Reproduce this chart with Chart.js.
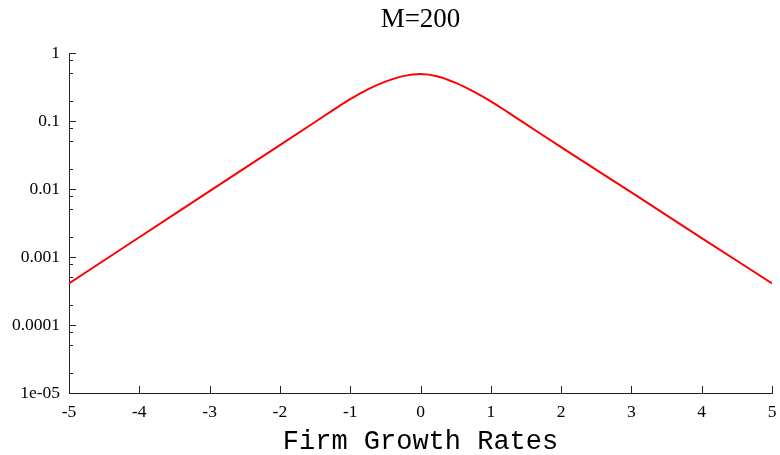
<!DOCTYPE html>
<html>
<head>
<meta charset="utf-8">
<script src="https://cdn.jsdelivr.net/npm/chart.js@4.4.1/dist/chart.umd.min.js"></script>
<style>
    html, body { margin: 0; padding: 0; background: #fff; }
    #wrap { width: 780px; height: 455px; }
</style>
</head>
<body>
<div id="wrap"><canvas id="growthChart"></canvas></div>
<script>
// Datos
const growthRates = [-5, -4, -3, -2, -1.5, -1.25, -1, -0.75, -0.5, -0.25, 0,
                     0.25, 0.5, 0.75, 1, 1.25, 1.5, 2, 3, 4, 5];
const density = [4.1e-4, 1.95e-3, 9.33e-3, 0.0442, 0.0966, 0.143, 0.209, 0.292, 0.38, 0.457, 0.492,
                 0.452, 0.363, 0.272, 0.195, 0.133, 0.090, 0.0412, 8.9e-3, 1.9e-3, 4.1e-4];

const chartTitle = 'M=200';
const xTicks = [-5, -4, -3, -2, -1, 0, 1, 2, 3, 4, 5];
const yTicks = [1, 0.1, 0.01, 0.001, 0.0001, 0.00001];
const yTickLabels = ['1', '0.1', '0.01', '0.001', '0.0001', '1e-05'];
const yMinorFactors = [0.8, 0.5, 0.2];

// Marcas de los ejes hacia dentro y titulo centrado sobre el area
const innerTicks = {
    id: 'innerTicks',
    afterDraw(chart) {
        const ctx = chart.ctx;
        const xs = chart.scales.x;
        const ys = chart.scales.y;
        const area = chart.chartArea;
        ctx.save();
        ctx.strokeStyle = '#222';
        ctx.lineWidth = 1;
        ctx.beginPath();
        xTicks.forEach(v => {
            const px = Math.round(xs.getPixelForValue(v)) + 0.5;
            ctx.moveTo(px, area.bottom);
            ctx.lineTo(px, area.bottom - 7);
        });
        yTicks.forEach(v => {
            const py = Math.round(ys.getPixelForValue(v)) + 0.5;
            ctx.moveTo(area.left, py);
            ctx.lineTo(area.left + 7, py);
            if (v < 1) {
                yMinorFactors.forEach(f => {
                    const m = Math.round(ys.getPixelForValue(v * 10 * f)) + 0.5;
                    ctx.moveTo(area.left, m);
                    ctx.lineTo(area.left + 4, m);
                });
            }
        });
        ctx.stroke();

        ctx.fillStyle = '#000';
        ctx.font = 'normal 27px "Liberation Serif", "Times New Roman", serif';
        ctx.textAlign = 'center';
        ctx.textBaseline = 'middle';
        ctx.fillText(chartTitle, (area.left + area.right) / 2, 20);
        ctx.restore();
    }
};

const ctx = document.getElementById('growthChart').getContext('2d');
new Chart(ctx, {
    type: 'line',
    data: {
        datasets: [{
            data: growthRates.map((g, i) => ({ x: g, y: density[i] })),
            borderColor: 'rgb(255, 0, 0)',
            borderWidth: 2,
            pointRadius: 0,
            fill: false,
            cubicInterpolationMode: 'monotone'
        }]
    },
    options: {
        responsive: true,
        maintainAspectRatio: false,
        animation: false,
        layout: { padding: { left: 0, right: 8, top: 53, bottom: 0 } },
        scales: {
            x: {
                type: 'linear',
                min: -5,
                max: 5,
                afterBuildTicks: scale => { scale.ticks = xTicks.map(v => ({ value: v })); },
                afterFit: scale => {
                    scale.height = 62;
                    scale.paddingLeft = 0;
                    scale.paddingRight = 0;
                },
                grid: { display: false, drawTicks: false },
                border: { display: true, color: '#222', width: 1 },
                ticks: {
                    color: '#000',
                    padding: 9,
                    maxRotation: 0,
                    font: { family: '"Liberation Serif", "Times New Roman", serif', size: 17.5 }
                },
                title: {
                    display: true,
                    text: 'Firm Growth Rates',
                    color: '#000',
                    padding: 0,
                    font: { family: '"Liberation Mono", "Courier New", monospace', size: 27, lineHeight: 1 }
                }
            },
            y: {
                type: 'logarithmic',
                min: 0.00001,
                max: 1,
                afterBuildTicks: scale => { scale.ticks = yTicks.map(v => ({ value: v })); },
                afterFit: scale => { scale.width = 69; },
                grid: { display: false, drawTicks: false },
                border: { display: true, color: '#222', width: 1 },
                ticks: {
                    color: '#000',
                    padding: 9,
                    font: { family: '"Liberation Serif", "Times New Roman", serif', size: 17.5 },
                    callback: function(value) {
                        const i = yTicks.indexOf(value);
                        return i >= 0 ? yTickLabels[i] : '';
                    }
                }
            }
        },
        plugins: {
            legend: { display: false },
            tooltip: { enabled: false },
            title: { display: false }
        }
    },
    plugins: [innerTicks]
});
</script>
</body>
</html>
